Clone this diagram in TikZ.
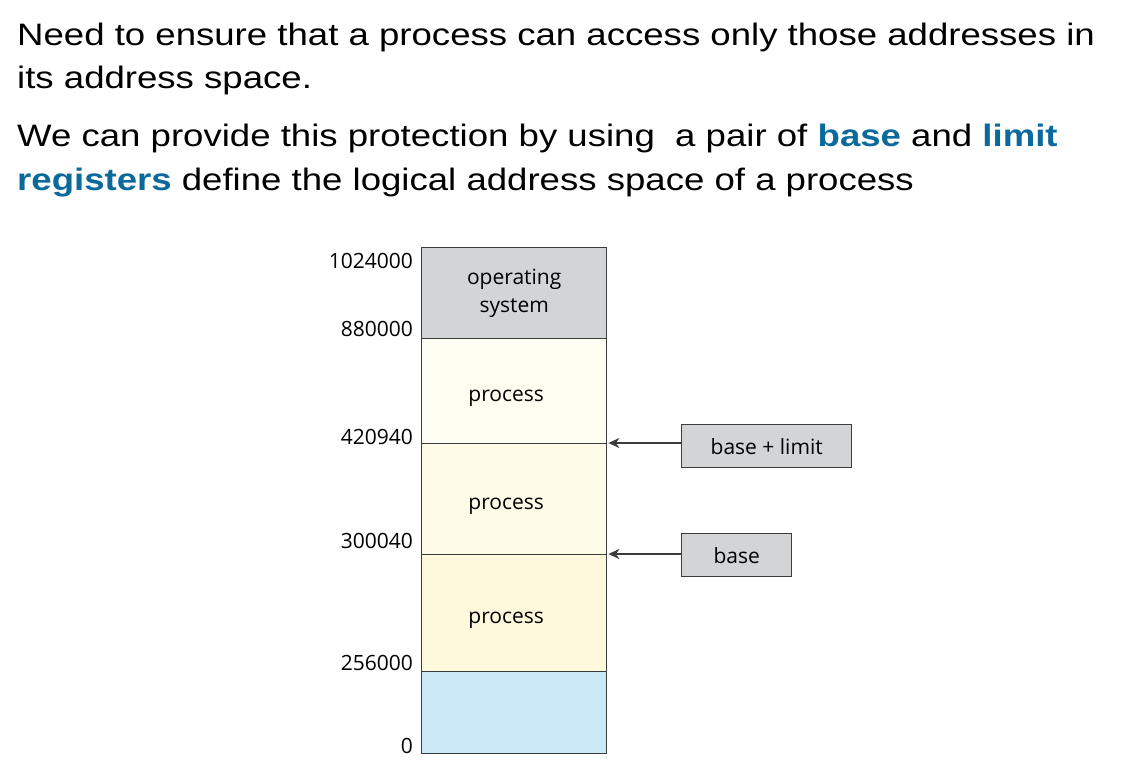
\documentclass[tikz,border=0pt]{standalone}
\usepackage{fontspec}
\setmainfont{Liberation Sans}[FakeStretch=1.18]
\newfontfamily\figfont{Open Sans}
\usepackage{tikz}
\usetikzlibrary{arrows.meta}
\usetikzlibrary{positioning}
\definecolor{regblue}{HTML}{0B6A9B}
\definecolor{osgray}{HTML}{D3D4D6}
\definecolor{procA}{HTML}{FEFDF2}
\definecolor{procB}{HTML}{FEFCE8}
\definecolor{procC}{HTML}{FEF9DC}
\definecolor{freeblue}{HTML}{C9E9F7}
\definecolor{edge}{HTML}{3C3C3C}

\begin{document}
\begin{tikzpicture}[x=1pt,y=-1pt]
\tikzset{figtext/.style = {font=\figfont\fontsize{21}{28}\selectfont}}
\tikzset{mem/.style = {rectangle,draw=edge,line width=1.4pt,minimum width=185pt,inner sep=0pt,anchor=north west,figtext,align=center}}
\tikzset{proclabel/.style = {label={[xshift=-8pt,yshift=-7pt,figtext]center:process}}}
\tikzset{addr/.style = {anchor=east,inner sep=0pt,figtext}}
\tikzset{reg/.style = {rectangle,draw=edge,line width=1.4pt,fill=osgray,inner sep=0pt,anchor=north west,minimum height=43pt,figtext}}
\tikzset{ptr/.style = {-{Stealth[length=11pt,width=10pt]},line width=2.2pt,draw=edge}}
\tikzset{txt/.style = {anchor=base west,inner sep=0pt,font=\fontsize{31}{37}\selectfont}}
\useasboundingbox (0,0) rectangle (1126,777);
% heading
\node[txt] (l1) at (17,45) {Need to ensure that a process can access only those addresses in};
\node[txt] (l2) at (17,88) {its address space.};
\node[txt] (l3) at (17,146.7) {We can provide this protection by using\ \ a pair of \textbf{\color{regblue}base} and \textbf{\color{regblue}limit}};
\node[txt] (l4) at (17,190) {\textbf{\color{regblue}registers} define the logical address space of a process};
% memory
\node[mem,fill=osgray,minimum height=91pt] (os) at (421,247) {operating\\system};
\node[mem,fill=procA,minimum height=105pt,proclabel] (p1) at (421,338) {};
\node[mem,fill=procB,minimum height=111pt,proclabel] (p2) at (421,443) {};
\node[mem,fill=procC,minimum height=117pt,proclabel] (p3) at (421,554) {};
\node[mem,fill=freeblue,minimum height=82pt] (free) at (421,671) {};
% addresses
\node[addr] (a1) at (413,261) {1024000};
\node[addr] (a2) at (413,329) {880000};
\node[addr] (a3) at (413,437) {420940};
\node[addr] (a4) at (413,541) {300040};
\node[addr] (a5) at (413,663) {256000};
\node[addr] (a6) at (413,746) {0};
% registers
\node[reg,minimum width=170pt] (lim) at (681,424) {base + limit};
\node[reg,minimum width=110pt] (base) at (681,533) {base};
%arrows
\draw[ptr] (lim.west |- p2.north east) -- ([xshift=1pt]p2.north east);
\draw[ptr] (base.west |- p3.north east) -- ([xshift=1pt]p3.north east);
\end{tikzpicture}
\end{document}
